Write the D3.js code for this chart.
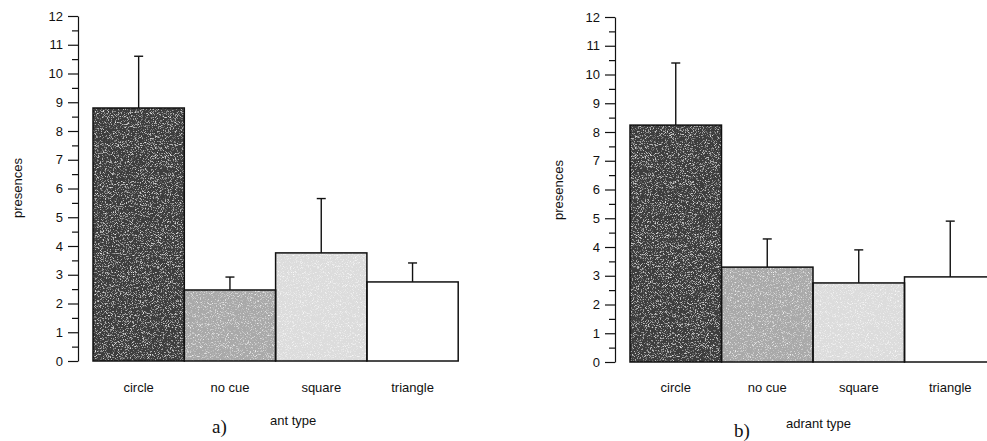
<!DOCTYPE html>
<html>
<head>
<meta charset="utf-8">
<script src="https://cdn.jsdelivr.net/npm/d3@7"></script>
<style>
  body { margin: 0; background: #fff; }
  text { font-family: "Liberation Sans", Arial, sans-serif; fill: #111; }
  .axis text { font-size: 13px; }
  .axis path, .axis line { stroke: #111; stroke-width: 1.2; }
</style>
</head>
<body>
<div id="chart"></div>
<script>
var categories = ["circle", "no cue", "square", "triangle"];
var yTicks = [0, 1, 2, 3, 4, 5, 6, 7, 8, 9, 10, 11, 12];
var yMinorTicks = [0.5, 1.5, 2.5, 3.5, 4.5, 5.5, 6.5, 7.5, 8.5, 9.5, 10.5, 11.5];

// panel a
var meansA = [8.8, 2.47, 3.76, 2.75];
var errA = [1.8, 0.45, 1.89, 0.66];
// panel b
var meansB = [8.24, 3.3, 2.75, 2.96];
var errB = [2.16, 0.98, 1.15, 1.94];

var fills = ["#3e3e3e", "#a9a9a9", "#dcdcdc", "#ffffff"];

var width = 987, height = 441;

var svg = d3.select("#chart")
  .append("svg")
  .attr("width", width)
  .attr("height", height);

// grainy look of the scanned print
var defs = svg.append("defs");
var grain = defs.append("filter").attr("id", "grain")
  .attr("x", 0).attr("y", 0).attr("width", 1).attr("height", 1);
grain.append("feTurbulence")
  .attr("type", "fractalNoise")
  .attr("baseFrequency", "1.6 0.9")
  .attr("numOctaves", 2)
  .attr("seed", 3)
  .attr("result", "noise");
grain.append("feColorMatrix")
  .attr("in", "noise")
  .attr("type", "matrix")
  .attr("values", "0 0 0 0 1  0 0 0 0 1  0 0 0 0 1  0 0 0 -2.6 1.2")
  .attr("result", "speck");
grain.append("feComposite")
  .attr("in", "speck").attr("in2", "SourceGraphic")
  .attr("operator", "atop")
  .attr("result", "specked");
grain.append("feMerge").selectAll("feMergeNode")
  .data(["SourceGraphic", "specked"])
  .enter().append("feMergeNode").attr("in", function (d) { return d; });

function drawPanel(cfg) {
  var y = d3.scaleLinear()
    .domain([0, 12])
    .range([cfg.bottom, cfg.top]);

  var x = d3.scaleBand()
    .domain(categories)
    .range([cfg.barLeft, cfg.barLeft + 4 * cfg.barW])
    .padding(0);

  var g = svg.append("g");

  var data = categories.map(function (c, i) {
    return { cat: c, mean: cfg.means[i], err: cfg.errs[i], fill: fills[i] };
  });

  // error bars
  var eb = g.selectAll(".err")
    .data(data)
    .enter()
    .append("g")
    .attr("class", "err");
  eb.append("line")
    .attr("x1", function (d) { return x(d.cat) + x.bandwidth() / 2; })
    .attr("x2", function (d) { return x(d.cat) + x.bandwidth() / 2; })
    .attr("y1", function (d) { return y(d.mean); })
    .attr("y2", function (d) { return y(d.mean + d.err); })
    .attr("stroke", "#111")
    .attr("stroke-width", 1.4);
  eb.append("line")
    .attr("x1", function (d) { return x(d.cat) + x.bandwidth() / 2 - 4.5; })
    .attr("x2", function (d) { return x(d.cat) + x.bandwidth() / 2 + 4.5; })
    .attr("y1", function (d) { return y(d.mean + d.err); })
    .attr("y2", function (d) { return y(d.mean + d.err); })
    .attr("stroke", "#111")
    .attr("stroke-width", 1.4);

  // bars
  g.selectAll(".bar")
    .data(data)
    .enter()
    .append("rect")
    .attr("class", "bar")
    .attr("x", function (d) { return x(d.cat); })
    .attr("y", function (d) { return y(d.mean); })
    .attr("width", x.bandwidth())
    .attr("height", function (d) { return y(0) - y(d.mean); })
    .attr("fill", function (d) { return d.fill; })
    .attr("filter", function (d, i) { return i < 3 ? "url(#grain)" : null; });

  g.selectAll(".barline")
    .data(data)
    .enter()
    .append("rect")
    .attr("class", "barline")
    .attr("x", function (d) { return x(d.cat); })
    .attr("y", function (d) { return y(d.mean); })
    .attr("width", x.bandwidth())
    .attr("height", function (d) { return y(0) - y(d.mean); })
    .attr("fill", "none")
    .attr("stroke", "#111")
    .attr("stroke-width", 1.5);

  // y axis, major and minor ticks
  g.append("g")
    .attr("class", "axis")
    .attr("transform", "translate(" + cfg.axisX + ",0)")
    .call(d3.axisLeft(y).tickValues(yTicks).tickSize(10).tickSizeOuter(0).tickPadding(5).tickFormat(d3.format("d")));

  g.append("g")
    .attr("class", "axis")
    .attr("transform", "translate(" + cfg.axisX + ",0)")
    .call(d3.axisLeft(y).tickValues(yMinorTicks).tickSize(6).tickSizeOuter(0).tickFormat(""))
    .select(".domain").remove();

  // category labels
  g.selectAll(".cat")
    .data(categories)
    .enter()
    .append("text")
    .attr("class", "cat")
    .attr("x", function (d) { return x(d) + x.bandwidth() / 2; })
    .attr("y", 392)
    .attr("text-anchor", "middle")
    .style("font-size", "13px")
    .text(function (d) { return d; });

  // y label
  g.append("text")
    .attr("transform", "translate(" + cfg.yLabelX + "," + cfg.yLabelY + ") rotate(-90)")
    .attr("text-anchor", "middle")
    .style("font-size", "13px")
    .text("presences");

  // x label (partly hidden in the scan)
  g.append("text")
    .attr("x", cfg.xLabelX)
    .attr("y", cfg.xLabelY)
    .style("font-size", "13px")
    .text(cfg.xLabel);

  // panel letter
  g.append("text")
    .attr("x", cfg.letterX)
    .attr("y", cfg.letterY)
    .style("font-family", "'Liberation Serif', 'DejaVu Serif', serif")
    .style("font-size", "19px")
    .text(cfg.letter);
}

drawPanel({
  means: meansA, errs: errA,
  axisX: 78, top: 16, bottom: 361,
  barLeft: 93, barW: 91.3,
  yLabelX: 22, yLabelY: 188,
  xLabel: "ant type", xLabelX: 270, xLabelY: 425,
  letter: "a)", letterX: 212, letterY: 433
});

drawPanel({
  means: meansB, errs: errB,
  axisX: 615, top: 17, bottom: 362,
  barLeft: 630, barW: 91.5,
  yLabelX: 563, yLabelY: 190,
  xLabel: "adrant type", xLabelX: 786, xLabelY: 428,
  letter: "b)", letterX: 734, letterY: 437
});
</script>
</body>
</html>
